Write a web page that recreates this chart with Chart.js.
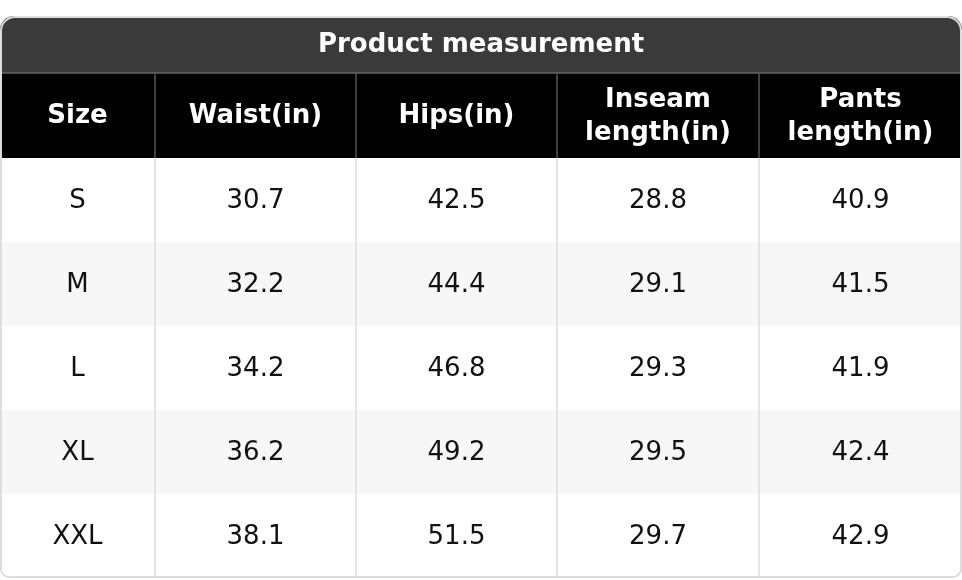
<!DOCTYPE html>
<html><head><meta charset="utf-8">
<script src="https://cdn.jsdelivr.net/npm/chart.js@4"></script>
<style>html,body{margin:0;padding:0;background:#fff}#w{width:962px;height:580px}</style>
</head><body><div id="w"><canvas id="c"></canvas></div>
<script>
const title = "Product measurement";
const columns = [["Size"], ["Waist(in)"], ["Hips(in)"], ["Inseam", "length(in)"], ["Pants", "length(in)"]];
const sizes = ["S", "M", "L", "XL", "XXL"];
const waist = ["30.7", "32.2", "34.2", "36.2", "38.1"];
const hips = ["42.5", "44.4", "46.8", "49.2", "51.5"];
const inseam = ["28.8", "29.1", "29.3", "29.5", "29.7"];
const pants = ["40.9", "41.5", "41.9", "42.4", "42.9"];
const colWeights = [155, 201, 201, 202, 203];

const tableCols = [sizes, waist, hips, inseam, pants];
const edges = [0]; colWeights.forEach(w => edges.push(edges[edges.length-1] + w));
// y units: title 57, header 85, rows 84 each
const TITLE_H = 57, HEAD_H = 85, ROW_H = 84;
const yTotal = TITLE_H + HEAD_H + ROW_H * sizes.length;

function rr(ctx, x, y, w, h, r) {
  ctx.beginPath();
  ctx.moveTo(x + r[0], y);
  ctx.lineTo(x + w - r[1], y); ctx.arcTo(x + w, y, x + w, y + r[1], r[1]);
  ctx.lineTo(x + w, y + h - r[2]); ctx.arcTo(x + w, y + h, x + w - r[2], y + h, r[2]);
  ctx.lineTo(x + r[3], y + h); ctx.arcTo(x, y + h, x, y + h - r[3], r[3]);
  ctx.lineTo(x, y + r[0]); ctx.arcTo(x, y, x + r[0], y, r[0]);
  ctx.closePath();
}

const tablePlugin = {
  id: 'table',
  afterDraw(chart) {
    const ctx = chart.ctx, xs = chart.scales.x, ys = chart.scales.y;
    const X = v => xs.getPixelForValue(v), Y = v => ys.getPixelForValue(v);
    const x0 = X(0), x1 = X(edges[edges.length-1]);
    const yT = Y(0), yH = Y(TITLE_H), yB = Y(TITLE_H + HEAD_H), yE = Y(yTotal);
    ctx.save();
    // outer clip
    rr(ctx, x0, yT, x1 - x0, yE - yT, [14, 14, 8, 8]);
    ctx.save(); ctx.clip();
    ctx.fillStyle = '#fff'; ctx.fillRect(x0, yT, x1 - x0, yE - yT);
    ctx.fillStyle = '#3a3a3a'; ctx.fillRect(x0, yT, x1 - x0, yH - yT);
    ctx.fillStyle = '#000'; ctx.fillRect(x0, yH, x1 - x0, yB - yH);
    sizes.forEach((s, i) => {
      if (i % 2 === 1) {
        ctx.fillStyle = '#f7f7f7';
        ctx.fillRect(x0, Y(TITLE_H + HEAD_H + ROW_H * i), x1 - x0, Y(TITLE_H + HEAD_H + ROW_H * (i + 1)) - Y(TITLE_H + HEAD_H + ROW_H * i));
      }
    });
    // separators
    ctx.lineWidth = 1.5;
    ctx.strokeStyle = '#666';
    ctx.beginPath(); ctx.moveTo(x0, yH); ctx.lineTo(x1, yH); ctx.stroke();
    for (let k = 1; k < edges.length - 1; k++) {
      const x = X(edges[k]);
      ctx.strokeStyle = '#555'; ctx.beginPath(); ctx.moveTo(x, yH); ctx.lineTo(x, yB); ctx.stroke();
      ctx.strokeStyle = '#dddddd'; ctx.beginPath(); ctx.moveTo(x, yB); ctx.lineTo(x, yE); ctx.stroke();
    }
    ctx.restore();
    rr(ctx, x0 + 1, yT + 1, x1 - x0 - 2, yE - yT - 2, [14, 14, 8, 8]);
    ctx.strokeStyle = '#dddddd'; ctx.lineWidth = 2; ctx.stroke();
    // text
    ctx.textAlign = 'center'; ctx.textBaseline = 'middle';
    ctx.fillStyle = '#fff'; ctx.font = 'bold 26px "DejaVu Sans"';
    ctx.fillText(title, (x0 + x1) / 2, (yT + yH) / 2 + 1);
    columns.forEach((lines, c) => {
      const cx = (X(edges[c]) + X(edges[c + 1])) / 2, cy = (yH + yB) / 2;
      const lh = 33;
      lines.forEach((t, j) => ctx.fillText(t, cx, cy + (j - (lines.length - 1) / 2) * lh + 1));
    });
    ctx.fillStyle = '#111'; ctx.font = '26px "DejaVu Sans"';
    tableCols.forEach((col, c) => {
      const cx = (X(edges[c]) + X(edges[c + 1])) / 2;
      col.forEach((v, i) => {
        const cy = (Y(TITLE_H + HEAD_H + ROW_H * i) + Y(TITLE_H + HEAD_H + ROW_H * (i + 1))) / 2;
        ctx.fillText(v, cx, cy + 1);
      });
    });
    ctx.restore();
  }
};

new Chart(document.getElementById('c'), {
  type: 'scatter',
  data: { datasets: [{ data: [] }] },
  options: {
    responsive: true, maintainAspectRatio: false, animation: false,
    layout: { padding: { left: 0, right: 0, top: 16, bottom: 2 } },
    plugins: { legend: { display: false }, tooltip: { enabled: false } },
    scales: {
      x: { type: 'linear', min: 0, max: edges[edges.length-1], display: false },
      y: { type: 'linear', min: 0, max: yTotal, reverse: true, display: false }
    }
  },
  plugins: [tablePlugin]
});
</script></body></html>
